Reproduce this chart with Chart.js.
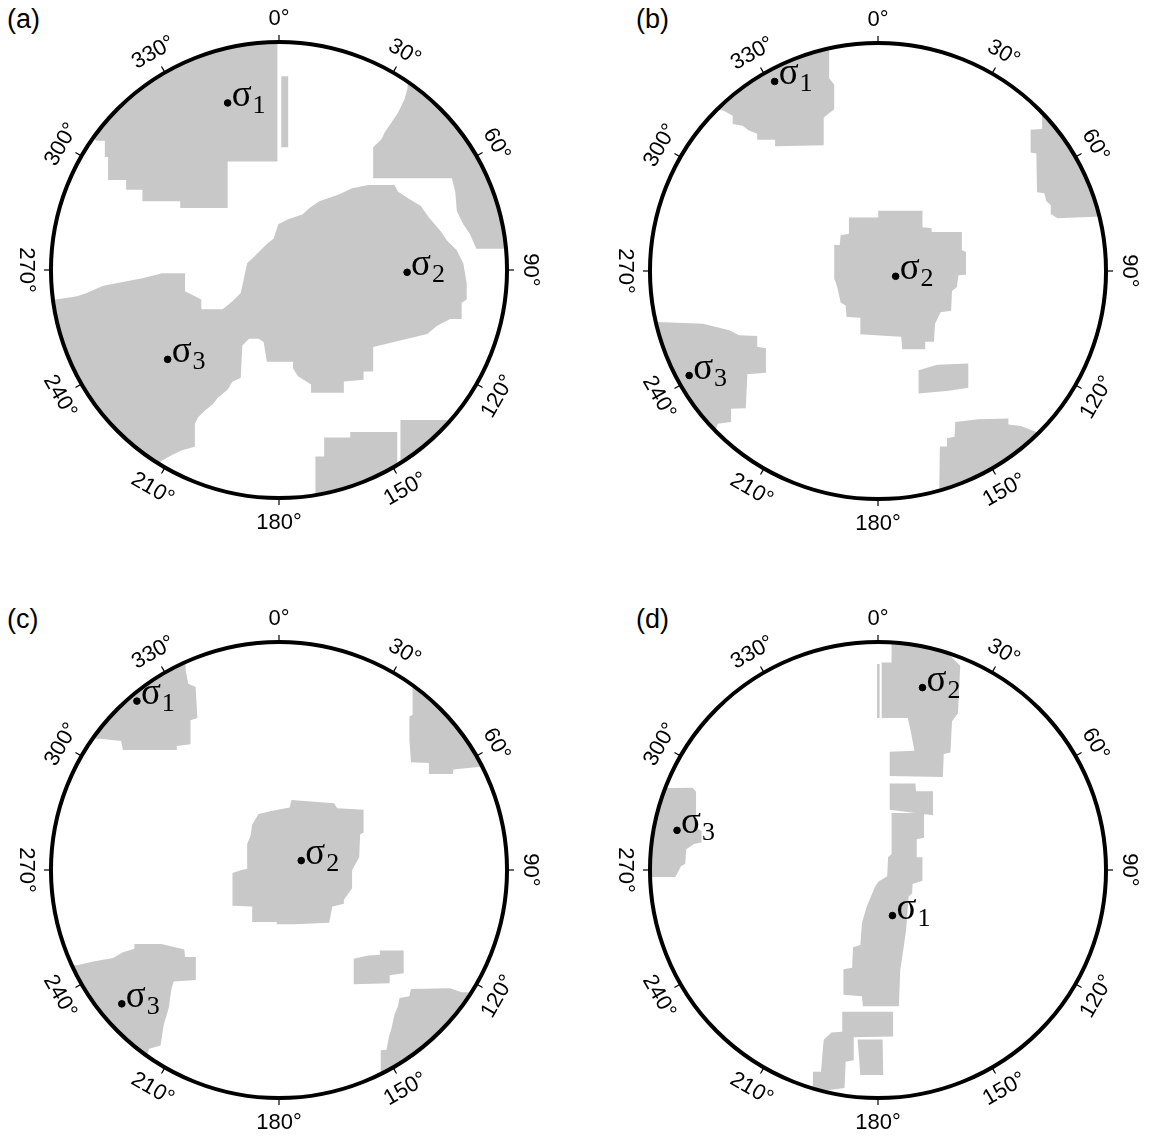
<!DOCTYPE html>
<html>
<head>
<meta charset="utf-8">
<script src="https://cdn.jsdelivr.net/npm/chart.js@4/dist/chart.umd.min.js"></script>
<style>
  html, body { margin: 0; padding: 0; background: #fff; overflow: hidden; }
  body { width: 1152px; height: 1147px; position: relative; }
  canvas { position: absolute; }
  .panel-letter { position: absolute; font: 27px "Liberation Sans", Arial, sans-serif; color: #000; line-height: 1; }
</style>
</head>
<body>
<div class="panel-letter" style="left:7px;top:6px">(a)</div>
<div class="panel-letter" style="left:636px;top:6px">(b)</div>
<div class="panel-letter" style="left:7px;top:606px">(c)</div>
<div class="panel-letter" style="left:636px;top:606px">(d)</div>
<canvas id="panel_a" width="560" height="560" style="left:-1px;top:-10px"></canvas>
<canvas id="panel_b" width="560" height="560" style="left:598px;top:-9px"></canvas>
<canvas id="panel_c" width="560" height="560" style="left:-1px;top:590px"></canvas>
<canvas id="panel_d" width="560" height="560" style="left:598px;top:590px"></canvas>
<script>
    // stereonet units: primitive circle radius ~ 100
    const circleRadius = 99.5;
    const azimuths = [0, 30, 60, 90, 120, 150, 180, 210, 240, 270, 300, 330];
    const azimuthLabels = ['0°', '30°', '60°', '90°', '120°', '150°', '180°', '210°', '240°', '270°', '300°', '330°'];
    const shadeColor = 'rgb(200,200,200)';

    // (a) shaded regions, polygon vertices [x, y]
    const regionsA = [
        [[-0.7,110],[-0.7,47.4],[-22.4,47.4],[-22.4,27.1],[-43.1,27.1],[-43.1,30],[-59.6,30],[-59.6,35],[-66.7,35],[-66.7,39.3],[-74.6,39.3],[-74.6,49.3],[-76,49.3],[-76,56.4],[-79.6,56.4],[-85,61],[-110,110]],
        [[1,84.6],[4,84.6],[4,53.6],[1,53.6]],
        [[56.1,88.6],[56.1,79.3],[54.7,74.3],[51.9,68.6],[49,64.3],[46.1,60],[44.7,57.1],[41.1,53.6],[41.1,40],[75.4,40],[76.9,34.3],[77.6,25.7],[80.4,20],[83.3,15.7],[86.1,9.3],[104.7,9.3],[104.7,88.6]],
        [[-109.6,-12.9],[-97.4,-12.9],[-88.1,-11.4],[-83.9,-10],[-76.7,-6.9],[-59.6,-3.6],[-51,-1.4],[-41,-1.4],[-41,-9.3],[-33.9,-12.9],[-33.9,-17.1],[-24.6,-17.1],[-20.3,-13.6],[-16.7,-10],[-13.9,2.9],[-11,5.7],[-5.3,11.4],[-2.4,13.6],[-0.3,20],[4,22.1],[10.4,24.3],[13.3,27.1],[17.6,30],[26.1,32.9],[31.9,35.7],[39,37.1],[50.4,37.1],[51.9,34.3],[56.1,31.4],[61.9,27.9],[65.4,22.9],[70.4,17.1],[73.3,12.9],[77.6,8.6],[80.4,2.9],[81.9,-5.7],[81.9,-12.9],[79.7,-14.3],[79.7,-21.4],[74.7,-21.4],[69,-24.3],[64.7,-27.9],[53.3,-30.7],[41.1,-33.6],[41.1,-44.3],[36.9,-44.3],[36.9,-47.9],[28.3,-48.6],[28.3,-53.6],[14,-53.6],[14,-50],[8.3,-46.4],[6.1,-42.9],[6.1,-40],[-5.3,-40],[-6.7,-31.4],[-8.9,-30],[-13.1,-30],[-16,-32.9],[-16.7,-47.1],[-20.3,-48.6],[-22.4,-52.1],[-26.7,-55.7],[-28.9,-58.6],[-32.4,-61.4],[-35.3,-64.3],[-36.7,-67.1],[-36.7,-77.1],[-42.4,-78.6],[-46.7,-80.7],[-51.7,-83.6],[-59.6,-97],[-109.6,-97]],
        [[15.9,-104.3],[15.9,-81.4],[19.7,-81.4],[19.7,-73.1],[31.1,-73.1],[31.1,-70.7],[51.6,-70.7],[51.6,-104.3]],
        [[53,-104.3],[53,-65.4],[90.4,-65.4],[90.4,-104.3]]
    ];
    const sigmaA = [
        { name: '1', x: -22.4, y: 72.9 },
        { name: '2', x: 55.9, y: -1 },
        { name: '3', x: -48.6, y: -39 }
    ];

    // (b)
    const regionsB = [
        [[-21.3,109.9],[-21.3,84.1],[-19.1,81.3],[-19.1,70.6],[-23.7,67],[-23.7,54.9],[-44.6,54.4],[-44.9,57.3],[-52.7,57.3],[-52.7,59.9],[-56.3,61.3],[-59.1,63.4],[-63.4,64.1],[-63.4,67.7],[-67.7,70.1],[-80.6,70.1],[-80.6,109.9]],
        [[71.6,74.1],[71.6,62],[66.6,61.6],[66.6,51.7],[69.1,51.3],[69.4,34.4],[72.6,33.9],[73.4,30.6],[75.4,28.7],[75.4,24.9],[78.3,23],[105.1,24.1],[105.1,74.1]],
        [[-12.7,23.4],[0.1,23.4],[0.1,26.3],[19.4,26.3],[19.4,19.1],[23.4,18.7],[23.4,17],[36.6,17],[36.6,9.1],[38.4,8.4],[38.4,-1.6],[35.1,-1.9],[34.4,-7],[32.3,-8.7],[31.9,-17.3],[27.3,-18],[24.9,-23],[24.4,-30.9],[20.6,-30.9],[20.6,-34.1],[10.6,-34.1],[10.1,-28.7],[4.4,-28.4],[-7.7,-27.6],[-7.7,-20.4],[-13.7,-20.1],[-14.1,-15.1],[-16.3,-13.7],[-17.7,-7.3],[-18.9,-3.7],[-19.1,11.3],[-16.7,11.3],[-16.3,15.6],[-12.7,16.3]],
        [[-109.1,-22.3],[-96.3,-22.3],[-76.3,-23],[-64.9,-25.9],[-60.6,-28],[-52.7,-28.4],[-52.7,-33],[-48.9,-33.7],[-48.9,-44.4],[-57,-45.1],[-57.7,-59.9],[-64.1,-60.1],[-64.1,-65.9],[-69.9,-66.6],[-73.4,-75.9],[-109.1,-75.9]],
        [[17.7,-43.3],[25.9,-40.9],[39.4,-40.4],[39.4,-50.9],[30.9,-52.3],[17.7,-53.4]],
        [[26.6,-104.4],[27,-76.6],[29.7,-76.6],[30.1,-73],[33.4,-72.3],[33.7,-65.9],[43.7,-64.7],[56.9,-64.4],[56.9,-67],[62.3,-67.6],[69.4,-70.4],[83.7,-70.4],[83.7,-104.4]]
    ];
    const sigmaB = [
        { name: '1', x: -45.1, y: 82.7 },
        { name: '2', x: 7.7, y: -2.3 },
        { name: '3', x: -82.4, y: -45.6 }
    ];

    // (c)
    const regionsC = [
        [[-41,95.6],[-40.7,87],[-39.6,81.3],[-36.4,79.9],[-35.6,66.3],[-38.6,65.3],[-38.6,54.9],[-44.6,54.1],[-44.6,52.4],[-68.1,52.4],[-68.9,56.3],[-78.1,57.3],[-88.1,57.3],[-88.1,95.6]],
        [[58.3,88.4],[58.3,67.7],[56.9,67],[56.9,57],[57.6,47],[65.4,46.7],[65.4,41.9],[75.9,41.9],[76.1,43.9],[86.9,44.9],[104.7,44.9],[104.7,88.4]],
        [[5.4,30.6],[24,29.1],[25.4,27],[36.9,26.3],[36.9,16.3],[35.4,15.6],[35,5.6],[31.9,-0.1],[31.9,-8],[28.3,-13],[28.3,-14.7],[23.3,-15.9],[21.9,-23],[6.9,-23.7],[-1,-23.7],[-1,-22.7],[-11.7,-22.7],[-11.7,-15.9],[-20.3,-15.6],[-20.3,-1.3],[-16,0.1],[-13.9,0.6],[-13.9,11.3],[-12.4,14.9],[-11.7,19.9],[-8.9,24.4],[-3.9,25.6],[4.7,27.3]],
        [[-95.3,-41.6],[-88.1,-41.6],[-81,-39.9],[-72.4,-38.4],[-68.1,-35.9],[-63.1,-34.4],[-63.1,-32.3],[-51.3,-32.3],[-41.3,-34.7],[-41,-38],[-36.3,-38],[-36.3,-48],[-46,-48.7],[-47,-52.3],[-48.1,-60.1],[-50.3,-67.6],[-51.7,-76.6],[-56.7,-78],[-59.6,-87.3],[-95.3,-87.3]],
        [[32.6,-38.7],[39,-37.3],[44,-37],[44,-35.1],[54.4,-35.1],[54.4,-45.1],[48.3,-45.9],[48.3,-49.4],[32.6,-49.9]],
        [[44.4,-97.3],[44.4,-78.7],[46.9,-78.4],[47.9,-73],[49,-69.4],[50.4,-63],[51.9,-59.4],[52.6,-55.9],[56.9,-55.1],[57.6,-51.9],[74.7,-51.6],[79.7,-53.3],[97.6,-53.3],[97.6,-97.3]]
    ];
    const sigmaC = [
        { name: '1', x: -62, y: 73.7 },
        { name: '2', x: 9.7, y: 4.1 },
        { name: '3', x: -68.6, y: -58.4 }
    ];

    // (d)
    const regionsD = [
        [[-0.4,89.9],[0.7,89.9],[0.7,66.3],[-0.4,66.3]],
        [[1.6,90.6],[5.9,90.6],[5.9,98.4],[31.6,98.4],[31.6,93.4],[35.9,89.1],[34.9,68.4],[32.3,64.9],[31.6,51.3],[28.7,50.6],[28.3,40.6],[5.1,41],[5.1,51.6],[15.9,52],[14.4,59.9],[13,66.3],[1.6,66.3]],
        [[5.1,37.7],[16.3,37.7],[16.6,34.4],[24,34.4],[24,23.9],[5.1,26.3]],
        [[5.9,24.9],[20.1,24.9],[20.1,14.1],[16.9,13.4],[16.9,5.6],[19.4,5.6],[19.4,-4.7],[15.1,-6.1],[14.9,-10.1],[13.4,-11.6],[12.3,-25.9],[11.1,-34.4],[9.7,-43.7],[9.1,-59.4],[-6.6,-59.4],[-7,-55.1],[-15.1,-54.4],[-15.1,-43.3],[-11.3,-42.7],[-10.9,-33.7],[-7.7,-32.7],[-7,-23],[-4.9,-15.9],[-1.3,-7.3],[0.1,-5.1],[4,-2.7],[4.4,5.6],[5.9,7]],
        [[-15.6,-61.9],[6.6,-61.9],[6.6,-72.7],[-10.6,-73],[-10.6,-83],[-14.1,-83.7],[-14.6,-95.1],[-22,-96.1],[-24.9,-100.1],[-28.4,-100.1],[-28.4,-88],[-24.9,-88],[-23.7,-74.1],[-20.3,-70.9],[-15.6,-70.6]],
        [[-8.9,-74],[2,-74],[2.3,-89.4],[-7.7,-89.4]],
        [[-109.1,35.6],[-80.9,35.9],[-79.4,34.1],[-79.4,18.4],[-77,17],[-77,12],[-80.3,11.3],[-83.7,9.1],[-84.1,2.7],[-86,1.6],[-88.4,-3],[-109.1,-3]]
    ];
    const sigmaD = [
        { name: '1', x: 6.3, y: -19.9 },
        { name: '2', x: 19.4, y: 79.6 },
        { name: '3', x: -87.7, y: 17.3 }
    ];

    function labelRotation(az) {
        if (az <= 90) return az;
        if (az <= 270) return az - 180;
        return az - 360;
    }

    const stereoPlugin = {
        id: 'stereo',
        beforeDatasetsDraw(chart) {
            const { ctx, scales: { x, y } } = chart;
            const cx = x.getPixelForValue(0), cy = y.getPixelForValue(0);
            const r = x.getPixelForValue(circleRadius) - cx;
            ctx.save();
            ctx.beginPath();
            ctx.arc(cx, cy, r, 0, 2 * Math.PI);
            ctx.clip();
        },
        afterDatasetsDraw(chart) {
            const { ctx, scales: { x, y } } = chart;
            ctx.restore();
            const cx = x.getPixelForValue(0), cy = y.getPixelForValue(0);
            const r = x.getPixelForValue(circleRadius) - cx;

            // primitive circle
            ctx.save();
            ctx.beginPath();
            ctx.arc(cx, cy, r, 0, 2 * Math.PI);
            ctx.lineWidth = 4;
            ctx.strokeStyle = '#000';
            ctx.stroke();

            // azimuth ticks and labels
            ctx.lineWidth = 1.2;
            ctx.fillStyle = '#000';
            ctx.font = '22px "Liberation Sans", Arial, sans-serif';
            ctx.textAlign = 'center';
            ctx.textBaseline = 'middle';
            azimuths.forEach((az, i) => {
                const t = az * Math.PI / 180;
                const sx = Math.sin(t), sy = -Math.cos(t);
                ctx.beginPath();
                ctx.moveTo(cx + sx * (r + 1), cy + sy * (r + 1));
                ctx.lineTo(cx + sx * (r + 7), cy + sy * (r + 7));
                ctx.stroke();
                ctx.save();
                ctx.translate(cx + sx * (r + 24), cy + sy * (r + 24));
                ctx.rotate(labelRotation(az) * Math.PI / 180);
                ctx.fillText(azimuthLabels[i], 0, 1);
                ctx.restore();
            });

            // principal stress labels
            const sig = chart.data.datasets[0].data;
            ctx.textAlign = 'left';
            ctx.textBaseline = 'alphabetic';
            sig.forEach(s => {
                const px = x.getPixelForValue(s.x), py = y.getPixelForValue(s.y);
                ctx.font = '37px "Liberation Serif", "Times New Roman", serif';
                ctx.fillText('σ', px + 4, py + 3);
                const w = ctx.measureText('σ').width;
                ctx.font = '26px "Liberation Serif", "Times New Roman", serif';
                ctx.fillText(s.name, px + 5 + w, py + 10);
            });
            ctx.restore();
        }
    };

    function makePanel(id, regions, sigmas) {
        const datasets = [{
            data: sigmas.map(s => ({ x: s.x, y: s.y, name: s.name })),
            pointRadius: 3.3,
            pointBackgroundColor: '#000',
            pointBorderColor: '#000',
            pointBorderWidth: 1,
            showLine: false,
        }];
        regions.forEach(poly => {
            const pts = poly.map(p => ({ x: p[0], y: p[1] }));
            pts.push({ x: poly[0][0], y: poly[0][1] });
            datasets.push({
                data: pts,
                showLine: true,
                fill: 'shape',
                backgroundColor: shadeColor,
                borderColor: 'rgba(0,0,0,0)',
                borderWidth: 1,
                pointRadius: 0,
                tension: 0,
            });
        });
        new Chart(document.getElementById(id).getContext('2d'), {
            type: 'scatter',
            data: { datasets: datasets },
            options: {
                responsive: false,
                animation: false,
                events: [],
                layout: { padding: 0 },
                plugins: { legend: { display: false }, tooltip: { enabled: false } },
                scales: {
                    x: { type: 'linear', min: -120, max: 120, display: false },
                    y: { type: 'linear', min: -120, max: 120, display: false }
                }
            },
            plugins: [stereoPlugin]
        });
    }

    makePanel('panel_a', regionsA, sigmaA);
    makePanel('panel_b', regionsB, sigmaB);
    makePanel('panel_c', regionsC, sigmaC);
    makePanel('panel_d', regionsD, sigmaD);
</script>
</body>
</html>
